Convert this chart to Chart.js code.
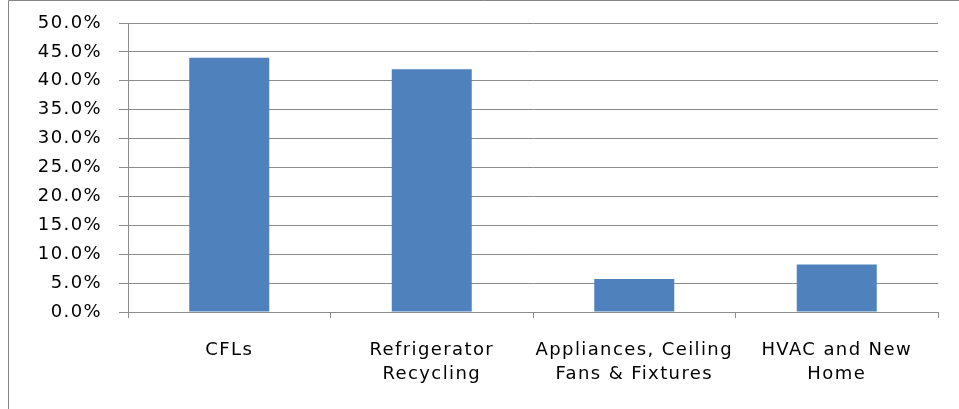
<!DOCTYPE html>
<html>
<head>
<meta charset="utf-8">
<script src="https://cdn.jsdelivr.net/npm/chart.js@4/dist/chart.umd.min.js"></script>
<style>
html,body{margin:0;padding:0;background:#fff;}
#wrap{width:959px;height:409px;position:relative;}
</style>
</head>
<body>
<div id="wrap"><canvas id="c" width="959" height="409"></canvas></div>
<script>
const categories = [["CFLs"], ["Refrigerator", "Recycling"], ["Appliances, Ceiling", "Fans & Fixtures"], ["HVAC and New", "Home"]];
const shareValues = [44.0, 42.0, 5.7, 8.2];
const yTickMin = 0, yTickMax = 50, yTickStep = 5;

const spacing = {
  id: 'spacing',
  beforeInit(chart) { chart.ctx.letterSpacing = '1.4px'; },
  beforeUpdate(chart) { chart.ctx.letterSpacing = '1.4px'; },
  beforeLayout(chart) { chart.ctx.letterSpacing = '1.4px'; },
  beforeDraw(chart) { chart.ctx.letterSpacing = '1.4px'; }
};

const frame = {
  id: 'frame',
  beforeDraw(chart) {
    const ctx = chart.ctx;
    ctx.save();
    ctx.strokeStyle = '#868686';
    ctx.lineWidth = 1;
    ctx.beginPath();
    ctx.moveTo(8.5, 409);
    ctx.lineTo(8.5, 0.5);
    ctx.lineTo(959, 0.5);
    ctx.stroke();
    ctx.restore();
  }
};

const font = {family: 'DejaVu Sans', size: 18, lineHeight: 1.3};
const cv = document.getElementById('c');
cv.getContext('2d').letterSpacing = '1.4px';
new Chart(cv, {
  type: 'bar',
  data: {
    labels: categories,
    datasets: [{
      data: shareValues,
      backgroundColor: '#4F81BD',
      borderWidth: 0,
      categoryPercentage: 1,
      barPercentage: 0.395
    }]
  },
  options: {
    responsive: false,
    animation: false,
    plugins: {legend: {display: false}, tooltip: {enabled: false}},
    layout: {padding: {top: 23, right: 21, left: 0, bottom: 0}},
    scales: {
      y: {
        min: yTickMin, max: yTickMax,
        ticks: {stepSize: yTickStep, color: '#000', font: font, padding: 17,
          callback: v => v.toFixed(1) + '%'},
        grid: {color: '#8c8c8c', tickLength: 9, lineWidth: 1},
        border: {color: '#8c8c8c'},
        afterFit: s => { s.width = 128; s.paddingTop = 0; s.paddingBottom = 0; }
      },
      x: {
        ticks: {color: '#000', font: font, padding: 21, maxRotation: 0, autoSkip: false},
        grid: {display: true, drawOnChartArea: false, color: '#8c8c8c', tickLength: 6, offset: true},
        border: {color: '#8c8c8c'},
        afterFit: s => { s.height = 409 - 312; }
      }
    }
  },
  plugins: [spacing, frame]
});
</script>
</body>
</html>
